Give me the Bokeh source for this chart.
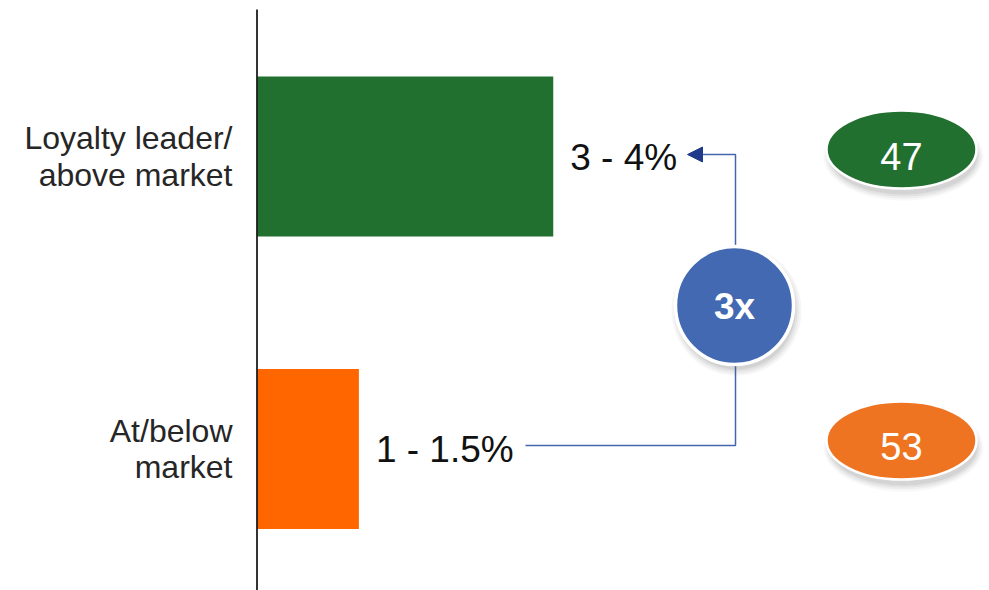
from bokeh.plotting import figure
from bokeh.models import Range1d, Arrow, NormalHead, ColumnDataSource
from bokeh.core.properties import value
from bokeh.embed import file_html
from bokeh.resources import INLINE

# ---- data ----
categories = ["Loyalty leader/\nabove market", "At/below\nmarket"]
bar_values = [3.5, 1.2]
value_labels = ["3 - 4%", "1 - 1.5%"]
badge_values = ["47", "53"]
ratio_label = "3x"

# ---- styles ----
bar_colors = ["#227030", "#FF6600"]
badge_colors = ["#227030", "#EE7422"]
FONT = value("Liberation Sans")
W, H = 989, 590
axis_px = 257
px_per_unit = 84.5

ypos = [1, 0]

p = figure(width=W, height=H, output_backend="svg", toolbar_location=None,
           x_axis_location=None, y_axis_location=None, min_border=0,
           x_range=Range1d(-axis_px / px_per_unit, (W - axis_px) / px_per_unit),
           y_range=Range1d(-0.484, 1.533))
p.outline_line_color = None
p.grid.visible = False
p.background_fill_color = "white"
p.border_fill_color = "white"
p.extra_x_ranges = {"px": Range1d(0, W)}
p.extra_y_ranges = {"px": Range1d(H, 0)}

src = ColumnDataSource(dict(y=ypos, v=bar_values, c=bar_colors, cat=categories, lab=value_labels))
p.hbar(y="y", left=0, right="v", height=0.547, fill_color="c", line_color=None, source=src)

# axis line
p.segment(x0=[256.5], y0=[9], x1=[256.5], y1=[590], line_color="black", line_width=1.6,
          x_range_name="px", y_range_name="px")

# category labels
p.text(x=0, y="y", text="cat", source=src, x_offset=-25, y_offset=0, text_align="right",
       text_baseline="middle", text_font=FONT, text_font_size="32px",
       text_color="#262626", text_line_height=1.02)

# value labels
p.text(x="v", y="y", text="lab", source=src, x_offset=17, y_offset=1, text_align="left",
       text_baseline="middle", text_font=FONT, text_font_size="37px", text_color="#111111")

# connectors
LC = "#4466AE"
p.line(x=[525, 735, 735], y=[445, 445, 362], line_color=LC, line_width=1.5,
       x_range_name="px", y_range_name="px")
p.line(x=[735, 735, 700], y=[248, 154, 154], line_color=LC, line_width=1.5,
       x_range_name="px", y_range_name="px")
p.add_layout(Arrow(x_start=702, y_start=154, x_end=687, y_end=154,
                   line_color=LC, line_width=1.5,
                   end=NormalHead(size=15, fill_color="#1F3A8A", line_color="#1F3A8A"),
                   x_range_name="px", y_range_name="px"))

# ratio circle with soft shadow
for i, a in enumerate([0.05, 0.06, 0.08, 0.10]):
    p.scatter(x=[736], y=[310], size=130 - 4 * i, marker="circle", fill_color="#555555",
              fill_alpha=a, line_color=None, x_range_name="px", y_range_name="px")
p.scatter(x=[734], y=[305], size=118, marker="circle", fill_color="#4269B1",
          line_color="white", line_width=3.5, x_range_name="px", y_range_name="px")
p.text(x=[734], y=[306], text=[ratio_label], text_align="center", text_baseline="middle",
       text_font=FONT, text_font_size="37px", text_font_style="bold", text_color="white",
       x_range_name="px", y_range_name="px")

# badges
bx = [901, 901]
by = [149, 440]
ty = [156, 446]
for i, a in enumerate([0.04, 0.06, 0.08, 0.10]):
    p.ellipse(x=[b + 2 for b in bx], y=[b + 7 for b in by], width=160 - 4 * i, height=88 - 4 * i,
              fill_color="#555555", fill_alpha=a, line_color=None,
              x_range_name="px", y_range_name="px")
p.ellipse(x=bx, y=by, width=150, height=78, fill_color=badge_colors, line_color="white",
          line_width=2.5, x_range_name="px", y_range_name="px")
p.text(x=bx, y=ty, text=badge_values, text_align="center", text_baseline="middle",
       text_font=FONT, text_font_size="38px", text_color="white",
       x_range_name="px", y_range_name="px")

open("out.html", "w").write(file_html(p, INLINE))
